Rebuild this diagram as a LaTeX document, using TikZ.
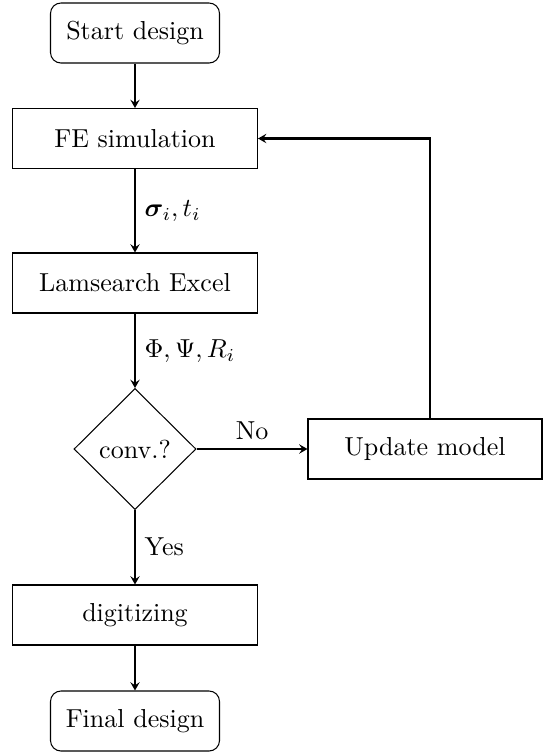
\documentclass[tikz,border=0pt]{standalone}
\usepackage{amsmath,bm}
\usetikzlibrary{shapes.geometric,arrows.meta}
\begin{document}
\begin{tikzpicture}[x=0.3846pt,y=-0.3846pt,
  box/.style={draw, line width=0.4pt, minimum width=245*0.3846pt, minimum height=60*0.3846pt, inner sep=0pt},
  term/.style={draw, line width=0.4pt, rounded corners=4pt, minimum width=169*0.3846pt, minimum height=60*0.3846pt, inner sep=0pt},
  decision/.style={draw, line width=0.4pt, diamond, minimum width=122*0.3846pt, minimum height=121*0.3846pt, inner sep=0pt},
  conn/.style={-{Stealth[length=3.2pt,width=3.6pt,inset=1.2pt]}, line width=0.8pt}]
\useasboundingbox (0,0) rectangle (543,752);
\node[term] (start) at (135,33) {Start design};
\node[box] (fe) at (135,138.5) {FE simulation};
\node[box] (lam) at (135,283) {Lamsearch Excel};
\node[decision] (dec) at (135,449) {conv.?};
\node[box, minimum width=234*0.3846pt] (upd) at (425,449) {Update model};
\node[box] (dig) at (135,615) {digitizing};
\node[term] (fin) at (135,721) {Final design};
\coordinate (turn) at (430,138.5);
\draw[conn] (start) -- (fe);
\draw[conn] (fe) -- node[right] {$\bm{\sigma}_i, t_i$} (lam);
\draw[conn] (lam) -- node[right] {$\Phi, \Psi, R_i$} (dec);
\draw[conn] (dec) -- node[above] {No} (upd);
\draw[conn] (dec) -- node[right] {Yes} (dig);
\draw[conn] (dig) -- (fin);
\draw[conn] (upd.north -| turn) |- (fe.east);
\end{tikzpicture}
\end{document}
